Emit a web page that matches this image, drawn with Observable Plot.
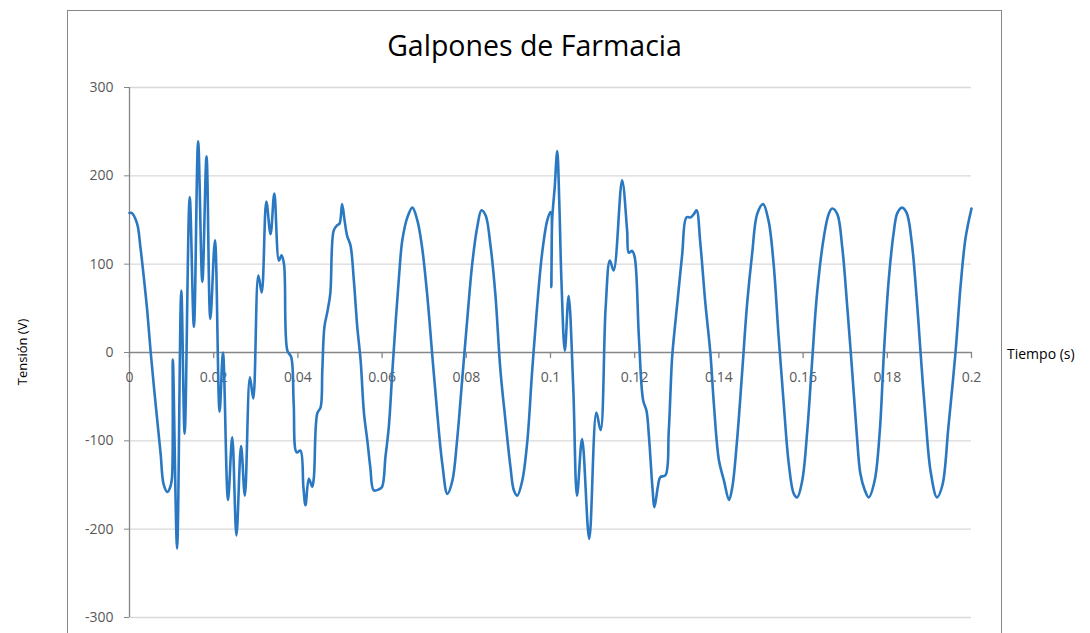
<!DOCTYPE html>
<html>
<head>
<meta charset="utf-8">
<script src="https://cdn.jsdelivr.net/npm/d3@7"></script>
<script src="https://cdn.jsdelivr.net/npm/@observablehq/plot@0.6"></script>
<style>
  html, body { margin: 0; padding: 0; background: #fff; overflow: hidden; }
  #wrap { position: relative; width: 1090px; height: 633px; overflow: hidden; font-family: "Open Sans", sans-serif; }
  #frame { position: absolute; left: 67px; top: 10px; width: 935px; height: 700px; border: 1px solid #888; box-sizing: border-box; }
  #title { position: absolute; left: 67px; width: 935px; top: 26px; text-align: center; font-size: 28.5px; color: #000; }
  #ylab { position: absolute; left: 22px; top: 352px; transform: translate(-50%, -50%) rotate(-90deg); font-size: 13px; color: #000; white-space: nowrap; }
  #xlab { position: absolute; left: 1007px; top: 344px; font-size: 14px; color: #000; white-space: nowrap; }
  #chart { position: absolute; left: 0; top: 0; }
</style>
</head>
<body>
<div id="wrap">
  <div id="frame"></div>
  <div id="chart"></div>
  <div id="title"></div>
  <div id="ylab"></div>
  <div id="xlab"></div>
</div>
<script>
const titleText = "Galpones de Farmacia";
const xLabel = "Tiempo (s)";
const yLabel = "Tensión (V)";
const xTicks = [0, 0.02, 0.04, 0.06, 0.08, 0.1, 0.12, 0.14, 0.16, 0.18, 0.2];
const yTicks = [-300, -200, -100, 0, 100, 200, 300];

const time = [
  0, 0.0005, 0.0018, 0.0026, 0.0034, 0.0042, 0.0050, 0.0058, 0.0066, 0.0074,
  0.0081, 0.0090, 0.0097, 0.0101, 0.0103, 0.0113, 0.0123, 0.0131, 0.0143, 0.0153,
  0.0163, 0.0173, 0.0183, 0.0192, 0.0203, 0.0214, 0.0222, 0.0234, 0.0244, 0.0254,
  0.0265, 0.0274, 0.0286, 0.0294, 0.0306, 0.0314, 0.0325, 0.0335, 0.0344, 0.0355,
  0.0361, 0.0367, 0.0375, 0.0384, 0.0390, 0.0397, 0.0406, 0.0413, 0.0418, 0.0426,
  0.0434, 0.0438, 0.0446, 0.0454, 0.0458, 0.0463, 0.0470, 0.0477, 0.0485, 0.0493,
  0.0499, 0.0505, 0.0511, 0.0517, 0.0525, 0.0533, 0.0541, 0.0549, 0.0557, 0.0565,
  0.0572, 0.0580, 0.0592, 0.0600, 0.0608, 0.0616, 0.0624, 0.0632, 0.0640, 0.0648,
  0.0660, 0.0672, 0.0684, 0.0695, 0.0707, 0.0719, 0.0731, 0.0743, 0.0755, 0.0767,
  0.0778, 0.0790, 0.0802, 0.0814, 0.0826, 0.0836, 0.0846, 0.0857, 0.0869, 0.0881,
  0.0893, 0.0905, 0.0913, 0.0921, 0.0933, 0.0945, 0.0956, 0.0968, 0.0980, 0.0992,
  0.1000, 0.1002, 0.1004, 0.1010, 0.1016, 0.1021, 0.1026, 0.1034, 0.1043, 0.1054,
  0.1063, 0.1075, 0.1092, 0.1109, 0.1119, 0.1131, 0.1141, 0.1150, 0.1170, 0.1182,
  0.1186, 0.1194, 0.1200, 0.1210, 0.1220, 0.1228, 0.1234, 0.1242, 0.1247, 0.1255,
  0.1261, 0.1273, 0.1281, 0.1289, 0.1297, 0.1305, 0.1313, 0.1323, 0.1333, 0.1341,
  0.1347, 0.1356, 0.1368, 0.1380, 0.1388, 0.1400, 0.1412, 0.1424, 0.1432, 0.1443,
  0.1455, 0.1467, 0.1479, 0.1491, 0.1505, 0.1518, 0.1530, 0.1542, 0.1554, 0.1566,
  0.1578, 0.1586, 0.1598, 0.1610, 0.1621, 0.1633, 0.1649, 0.1661, 0.1669, 0.1681,
  0.1693, 0.1705, 0.1717, 0.1728, 0.1736, 0.1746, 0.1756, 0.1770, 0.1782, 0.1792,
  0.1803, 0.1815, 0.1824, 0.1835, 0.1846, 0.1858, 0.1870, 0.1879, 0.1891, 0.1903,
  0.1918, 0.1931, 0.1945, 0.1962, 0.1974, 0.1986, 0.2000
];
const tension = [
  158, 158, 146, 119, 85, 48, 2, -39, -77, -115,
  -149, -158, -152, -141, -8, -222, 70, -92, 176, 29,
  239, 80, 222, 38, 127, -67, 0, -167, -96, -207,
  -106, -162, -28, -52, 87, 68, 171, 134, 180, 104,
  110, 100, 2, -5, -58, -113, -111, -152, -173, -143,
  -152, -141, -69, -62, -20, 29, 46, 67, 138, 144,
  146, 168, 149, 132, 121, 81, 29, -9, -69, -100,
  -130, -156, -155, -152, -118, -84, -24, 33, 85, 127,
  153, 164, 149, 119, 66, -2, -69, -126, -160, -145,
  -100, -32, 36, 100, 142, 161, 155, 123, 66, -20,
  -77, -130, -156, -162, -145, -100, -24, 51, 112, 149,
  159, 74, 150, 187, 228, 168, 81, 2, 64, -39,
  -162, -98, -211, -68, -88, 51, 104, 93, 195, 138,
  113, 115, 108, 17, -54, -66, -96, -152, -175, -152,
  -141, -139, -88, -5, 36, 74, 112, 153, 153, 157,
  161, 123, 55, -2, -58, -122, -145, -167, -152, -100,
  -24, 55, 112, 157, 168, 149, 100, 17, -58, -126,
  -160, -164, -145, -88, -13, 66, 130, 157, 163, 157,
  119, 51, -24, -96, -137, -155, -164, -145, -90, 0,
  80, 135, 158, 164, 158, 125, 60, 0, -75, -135,
  -164, -150, -85, 0, 75, 130, 163
];

const data = time.map((t, i) => ({t, v: tension[i]}));
const fmtX = d => String(+d.toFixed(2));

document.getElementById("title").textContent = titleText;
document.getElementById("ylab").textContent = yLabel;
document.getElementById("xlab").textContent = xLabel;

const gridColor = "#d9d9d9";
const axisColor = "#868686";
const tickColor = "#595959";

const chart = Plot.plot({
  width: 1090,
  height: 633,
  marginLeft: 129,
  marginRight: 119,
  marginTop: 87,
  marginBottom: 16,
  style: {background: "transparent", fontFamily: "'Open Sans', sans-serif", fontSize: "14px", color: tickColor},
  x: {domain: [0, 0.2], axis: null},
  y: {domain: [-300, 300], axis: null},
  marks: [
    Plot.ruleY(yTicks.filter(d => d !== 0), {y: d => d, stroke: gridColor, strokeWidth: 1.3}),
    Plot.ruleX([0], {stroke: axisColor, strokeWidth: 1.3}),
    Plot.ruleY([0], {stroke: axisColor, strokeWidth: 1.3}),
    Plot.axisY(yTicks, {label: null, tickSize: 5, tickPadding: 11, stroke: axisColor, tickFormat: d => String(d), fill: tickColor, fontSize: 14}),
    Plot.vector(xTicks, {x: d => d, y: 0, length: 5, rotate: 180, anchor: "start", shape: "spike", r: 0, stroke: axisColor, fill: "none", strokeWidth: 1.3}),
    Plot.text(xTicks, {x: d => d, y: 0, dy: 25, text: fmtX, fill: tickColor, fontSize: 14}),
    Plot.line(data, {x: "t", y: "v", stroke: "#2a78c2", strokeWidth: 2.6, curve: "catmull-rom"})
  ]
});
document.getElementById("chart").appendChild(chart);
</script>
</body>
</html>
